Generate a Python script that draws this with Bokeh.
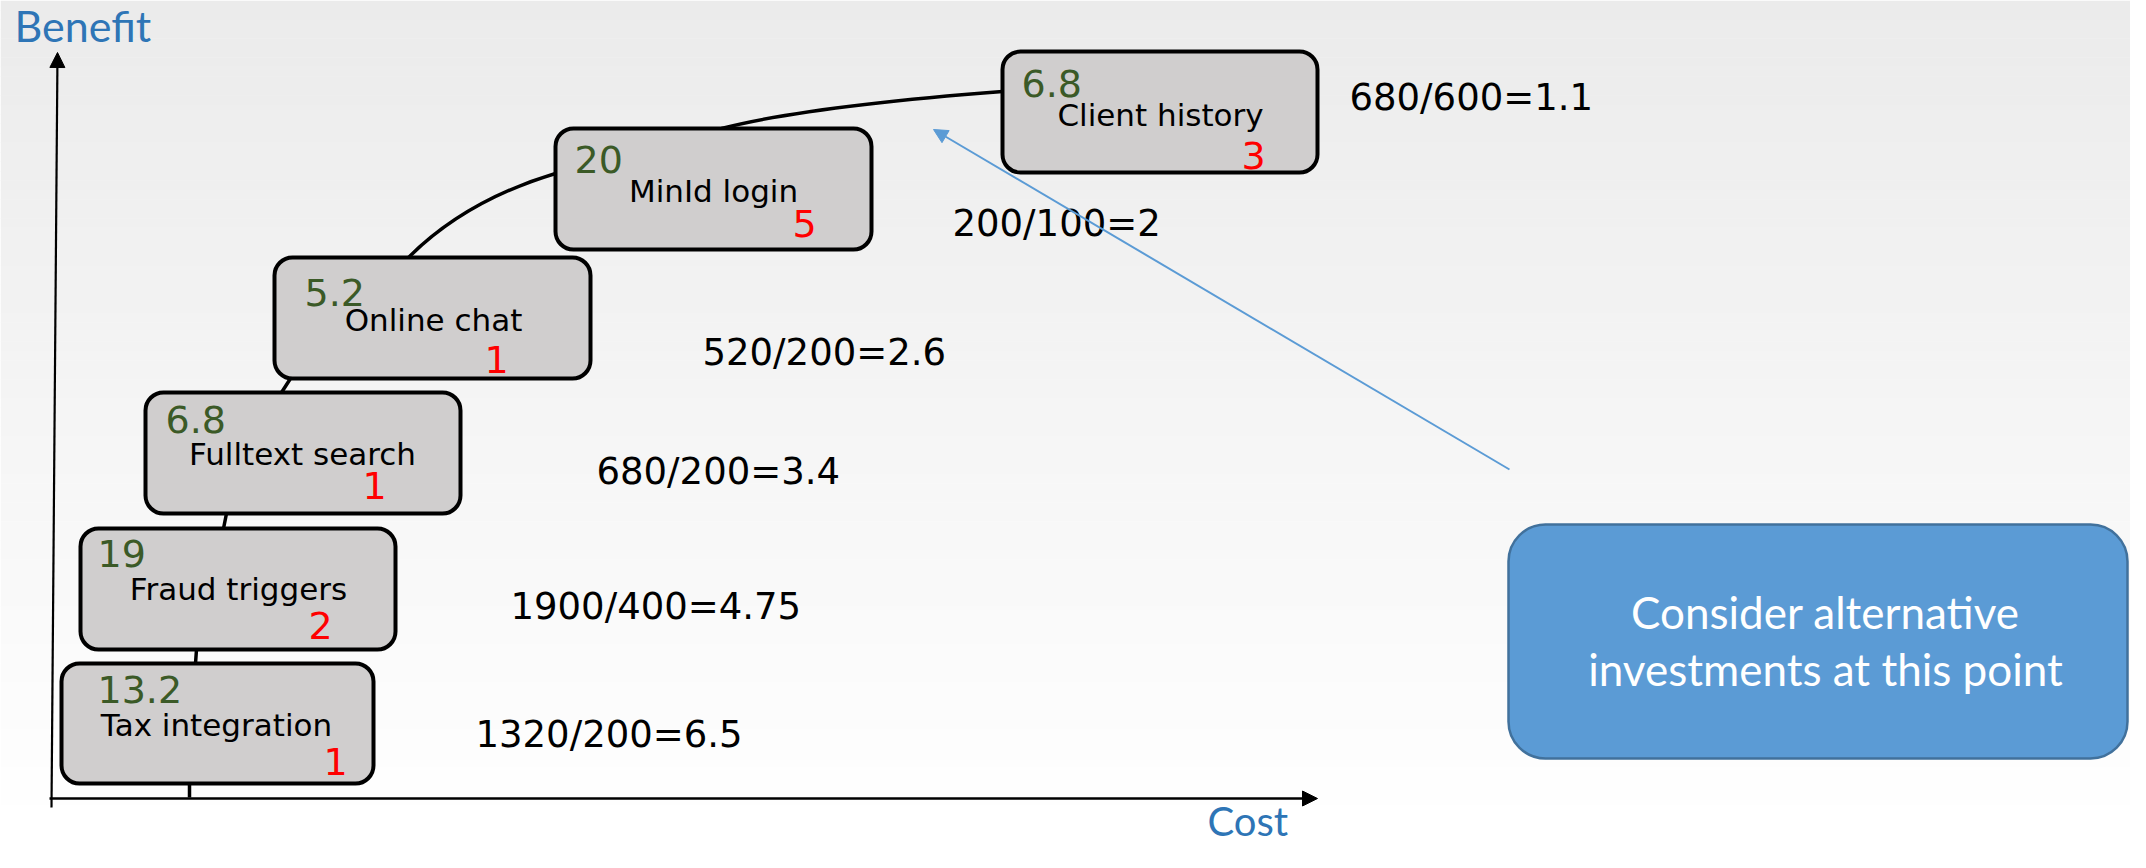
from bokeh.plotting import figure
from bokeh.models import Range1d, ColumnDataSource, Arrow, NormalHead
from bokeh.core.properties import value
from bokeh.embed import file_html
from bokeh.resources import INLINE

# ---------------- data ----------------
features = ["Tax integration", "Fraud triggers", "Fulltext search",
            "Online chat", "MinId login", "Client history"]
benefit_labels = ["13.2", "19", "6.8", "5.2", "20", "6.8"]
cost_labels = ["1", "2", "1", "1", "5", "3"]
ratio_labels = ["1320/200=6.5", "1900/400=4.75", "680/200=3.4",
                "520/200=2.6", "200/100=2", "680/600=1.1"]
callout_lines = ["Consider alternative", "investments at this point"]
y_title = "Benefit"
x_title = "Cost"

# ---------------- layout (pixel coordinates of the picture) ----------------
box_left = [61, 80, 145, 274, 555, 1002]
box_right = [373, 395, 460, 590, 871, 1317]
box_top = [663, 528, 392, 257, 128, 51]
box_bottom = [783, 649, 513, 378, 249, 172]

# text baselines as seen in the picture
ben_x = [97, 97, 165, 304, 574, 1021]
ben_y = [703, 567, 433, 306, 173, 97]
name_x = [216, 238, 302, 433, 713, 1160]
name_y = [736, 600, 465, 331, 202, 126]
cost_x = [335, 320, 374, 496, 804, 1253]
cost_y = [775, 639, 499, 373, 237, 169]
ratio_x = [475, 510, 596, 702, 952, 1349]
ratio_y = [748, 620, 485, 366, 237, 111]

curve_x = [189, 189, 192, 195, 196, 210, 223, 226, 250, 281, 290, 340, 408]
curve_y = [797, 783, 720, 663, 649, 590, 528, 513, 450, 392, 378, 310, 257]
arc_x0, arc_y0, arc_cx, arc_cy, arc_x1, arc_y1 = [408, 721], [257, 128], [465, 806], [200, 106], [555, 1002], [173, 91]

W, H = 2130, 852

# renderer places text slightly below the requested baseline; compensate
K_DEJAVU, K_LATO = 0.38, 0.41


def up(ys, size, k):
    return [y - k * size for y in ys]


p = figure(width=W, height=H,
           x_range=Range1d(0, W), y_range=Range1d(H, 0),
           output_backend="svg", toolbar_location=None,
           x_axis_location=None, y_axis_location=None, min_border=0)
p.grid.visible = False
p.outline_line_color = None
p.background_fill_color = "white"
p.border_fill_color = "white"

# background gradient (light grey at top to white at bottom)
nb = 90
step = H / nb
tops = [i * step for i in range(nb)]
bots = [t + step + 0.5 for t in tops]
cols = []
for t in tops:
    f = min(1.0, (t + step / 2) / 830.0)
    v = int(round(235 + 20 * f))
    cols.append("#%02x%02x%02x" % (v, v, v))
p.quad(left=0, right=W, top=tops, bottom=bots, fill_color=cols, line_color=None)

# concave benefit curve (drawn behind boxes)
p.line(curve_x, curve_y, line_color="black", line_width=3.5)
p.quadratic(x0=arc_x0, y0=arc_y0, cx=arc_cx, cy=arc_cy, x1=arc_x1, y1=arc_y1,
            line_color="black", line_width=3.5)

# axes with arrow heads
p.add_layout(Arrow(end=NormalHead(size=15, fill_color="black", line_color="black"),
                   x_start=51, y_start=807, x_end=57, y_end=52,
                   line_color="black", line_width=2.2))
p.add_layout(Arrow(end=NormalHead(size=15, fill_color="black", line_color="black"),
                   x_start=49, y_start=798, x_end=1317, y_end=798,
                   line_color="black", line_width=2.5))

# feature boxes
bsrc = ColumnDataSource(dict(l=box_left, r=box_right, t=box_top, b=box_bottom))
p.quad(left="l", right="r", top="t", bottom="b", source=bsrc,
       fill_color="#d0cece", line_color="black", line_width=4, border_radius=18)

tsrc = ColumnDataSource(dict(bx=ben_x, by=up(ben_y, 38, K_DEJAVU), bt=benefit_labels,
                             nx=name_x, ny=up(name_y, 31, K_DEJAVU), nt=features,
                             cx=cost_x, cy=up(cost_y, 38, K_DEJAVU), ct=cost_labels,
                             rx=ratio_x, ry=up(ratio_y, 37, K_DEJAVU), rt=ratio_labels))
p.text(x="bx", y="by", text="bt", source=tsrc, text_font=value("DejaVu Sans"),
       text_font_size="38px", text_color="#3b5a27", text_align="left",
       text_baseline="alphabetic")
p.text(x="nx", y="ny", text="nt", source=tsrc, text_font=value("DejaVu Sans"),
       text_font_size="31px", text_color="black", text_align="center",
       text_baseline="alphabetic")
p.text(x="cx", y="cy", text="ct", source=tsrc, text_font=value("DejaVu Sans"),
       text_font_size="38px", text_color="#ff0000", text_align="center",
       text_baseline="alphabetic")
p.text(x="rx", y="ry", text="rt", source=tsrc, text_font=value("DejaVu Sans"),
       text_font_size="37px", text_color="black", text_align="left",
       text_baseline="alphabetic")

# axis titles
p.text(x=[14], y=up([43], 43, K_LATO), text=[y_title], text_font=value("Lato"),
       text_font_size="43px", text_color="#2e75b6", text_align="left",
       text_baseline="alphabetic")
p.text(x=[1207], y=up([837], 40, K_LATO), text=[x_title], text_font=value("Lato"),
       text_font_size="40px", text_color="#2e75b6", text_align="left",
       text_baseline="alphabetic")

# callout arrow and box
p.add_layout(Arrow(end=NormalHead(size=14, fill_color="#5b9bd5", line_color="#5b9bd5"),
                   x_start=1509, y_start=469, x_end=933, y_end=129,
                   line_color="#5b9bd5", line_width=2))
p.quad(left=[1508], right=[2127], top=[524], bottom=[758],
       fill_color="#5b9bd5", line_color="#41719c", line_width=2.5, border_radius=37)
p.text(x=[1825, 1825], y=up([630, 687], 44, K_LATO), text=callout_lines,
       text_font=value("Lato"), text_font_size="44px", text_color="white",
       text_align="center", text_baseline="alphabetic")

open("out.html", "w").write(file_html(p, INLINE))
